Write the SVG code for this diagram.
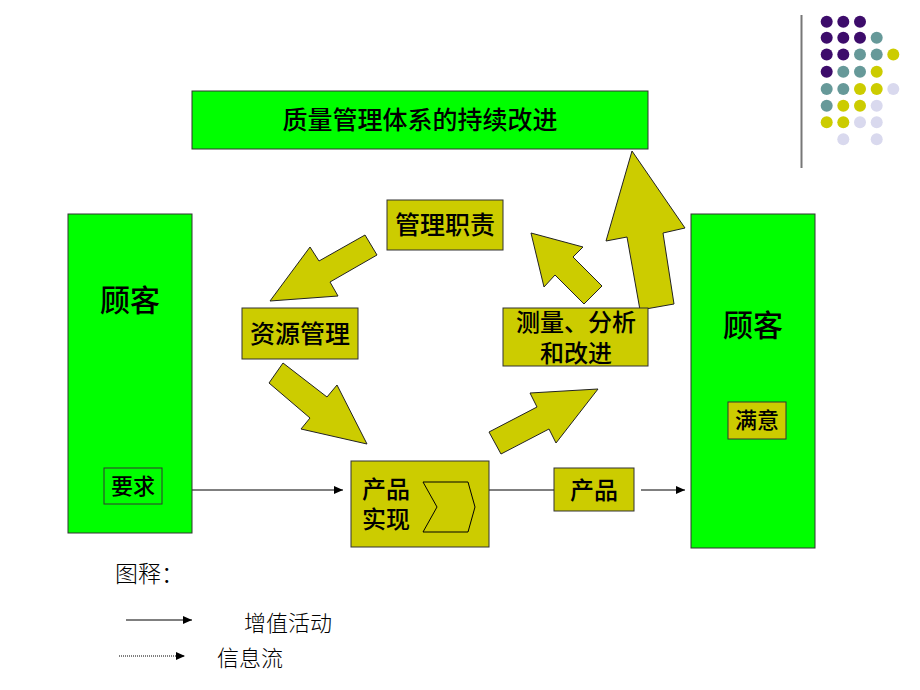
<svg xmlns="http://www.w3.org/2000/svg" width="920" height="690" viewBox="0 0 920 690">
<style>
.g{fill:#00FF00;stroke:#333;stroke-width:1}
.y{fill:#CCCC00;stroke:#333;stroke-width:1}
.t{font-family:"Noto Sans CJK SC","Noto Sans",sans-serif;fill:#000;text-anchor:middle;dominant-baseline:central;font-weight:500}
.l{font-family:"Noto Sans CJK SC","Noto Sans",sans-serif;fill:#000;dominant-baseline:central;font-weight:300}
.ba{fill:#CCCC00;stroke:#222;stroke-width:1;stroke-linejoin:miter}
.ln{stroke:#000;stroke-width:1;fill:none}
.P{fill:#3D0C6B}.T{fill:#669999}.Y{fill:#CCCC00}.L{fill:#D9D9EE}
</style>
<defs>
<marker id="ah" markerWidth="9" markerHeight="8" refX="9" refY="4" orient="auto" markerUnits="userSpaceOnUse">
<path d="M0,0 L9,4 L0,8 Z" fill="#000"/>
</marker>
</defs>
<rect width="920" height="690" fill="#fff"/>
<g id="deco">
<line x1="801.5" y1="15" x2="801.5" y2="168" stroke="#777" stroke-width="2"/>
<circle class="P" cx="826.7" cy="21.7" r="6"/><circle class="P" cx="843.3" cy="21.7" r="6"/><circle class="P" cx="860" cy="21.7" r="6"/>
<circle class="P" cx="826.7" cy="37.7" r="6"/><circle class="P" cx="843.3" cy="37.7" r="6"/><circle class="P" cx="860" cy="37.7" r="6"/><circle class="T" cx="876.7" cy="37.7" r="6"/>
<circle class="P" cx="826.7" cy="54.5" r="6"/><circle class="P" cx="843.3" cy="54.5" r="6"/><circle class="T" cx="860" cy="54.5" r="6"/><circle class="T" cx="876.7" cy="54.5" r="6"/><circle class="Y" cx="893.3" cy="54.5" r="6"/>
<circle class="P" cx="826.7" cy="71.7" r="6"/><circle class="T" cx="843.3" cy="71.7" r="6"/><circle class="T" cx="860" cy="71.7" r="6"/><circle class="Y" cx="876.7" cy="71.7" r="6"/>
<circle class="T" cx="826.7" cy="89" r="6"/><circle class="T" cx="843.3" cy="89" r="6"/><circle class="Y" cx="860" cy="89" r="6"/><circle class="Y" cx="876.7" cy="89" r="6"/><circle class="L" cx="893.3" cy="89" r="6"/>
<circle class="T" cx="826.7" cy="105.7" r="6"/><circle class="Y" cx="843.3" cy="105.7" r="6"/><circle class="Y" cx="860" cy="105.7" r="6"/><circle class="L" cx="876.7" cy="105.7" r="6"/>
<circle class="Y" cx="826.7" cy="122.3" r="6"/><circle class="Y" cx="843.3" cy="122.3" r="6"/><circle class="L" cx="860" cy="122.3" r="6"/><circle class="L" cx="876.7" cy="122.3" r="6"/>
<circle class="L" cx="843.3" cy="139.3" r="6"/><circle class="L" cx="876.7" cy="139.3" r="6"/>
</g>
<g id="connectors">
<line class="ln" x1="162" y1="490" x2="343" y2="490" marker-end="url(#ah)"/>
<line class="ln" x1="489" y1="490" x2="554" y2="490"/>
<line class="ln" x1="641" y1="490" x2="685" y2="490" marker-end="url(#ah)"/>
<polygon class="ba" points="365,235 319,261 310,247 270,301 338,296 330,282 377,255"/>
<polygon class="ba" points="283,363 327,397 337,385 367,444 301,429 310,418 269,383"/>
<polygon class="ba" points="489,432 537,407 530,393 598,389 556,443 549,429 501,454"/>
<polygon class="ba" points="531,233 583,247 573,257 602,286 584,304 555,275 544,287"/>
<polygon class="ba" points="632,151 685,228 663,233 674,304 640,310 627,237 606,241"/>
</g>
<g id="improve">
<rect class="g" x="192" y="91" width="456" height="58"/>
<text class="t" x="420" y="118" font-size="25">质量管理体系的持续改进</text>
</g>
<g id="customer-left">
<rect class="g" x="68" y="214" width="124" height="319"/>
<text class="t" x="130" y="298" font-size="30">顾客</text>
</g>
<g id="requirement">
<rect class="g" x="104" y="468" width="58" height="36"/>
<text class="t" x="133" y="484" font-size="22">要求</text>
</g>
<g id="customer-right">
<rect class="g" x="691" y="214" width="124" height="334"/>
<text class="t" x="753" y="323" font-size="30">顾客</text>
</g>
<g id="satisfaction">
<rect class="y" x="728" y="402" width="58" height="37"/>
<text class="t" x="757" y="418" font-size="22">满意</text>
</g>
<g id="mgmt">
<rect class="y" x="387" y="200" width="116" height="50"/>
<text class="t" x="445" y="223" font-size="25">管理职责</text>
</g>
<g id="resource">
<rect class="y" x="242" y="308" width="116" height="51"/>
<text class="t" x="300" y="332" font-size="25">资源管理</text>
</g>
<g id="measure">
<rect class="y" x="503" y="308" width="145" height="58"/>
<text class="t" x="576" y="320" font-size="24">测量、分析</text>
<text class="t" x="576" y="351" font-size="24">和改进</text>
</g>
<g id="realization">
<rect class="y" x="351" y="461" width="138" height="86"/>
<text class="t" x="386" y="487" font-size="24">产品</text>
<text class="t" x="386" y="517" font-size="24">实现</text>
<polygon points="423,482 468,482 475,507 468,532 423,532 437,507" fill="none" stroke="#000" stroke-width="1"/>
</g>
<g id="product">
<rect class="y" x="554" y="468" width="80" height="43"/>
<text class="t" x="594" y="488" font-size="24">产品</text>
</g>
<g id="legend">
<text class="l" x="115" y="572" font-size="23">图释：</text>
<line class="ln" x1="126" y1="620" x2="192" y2="620" marker-end="url(#ah)"/>
<text class="l" x="244" y="621" font-size="22">增值活动</text>
<line x1="119" y1="656" x2="185" y2="656" stroke="#000" stroke-width="1" stroke-dasharray="1,1" marker-end="url(#ah)"/>
<text class="l" x="217" y="656" font-size="22">信息流</text>
</g>
</svg>
